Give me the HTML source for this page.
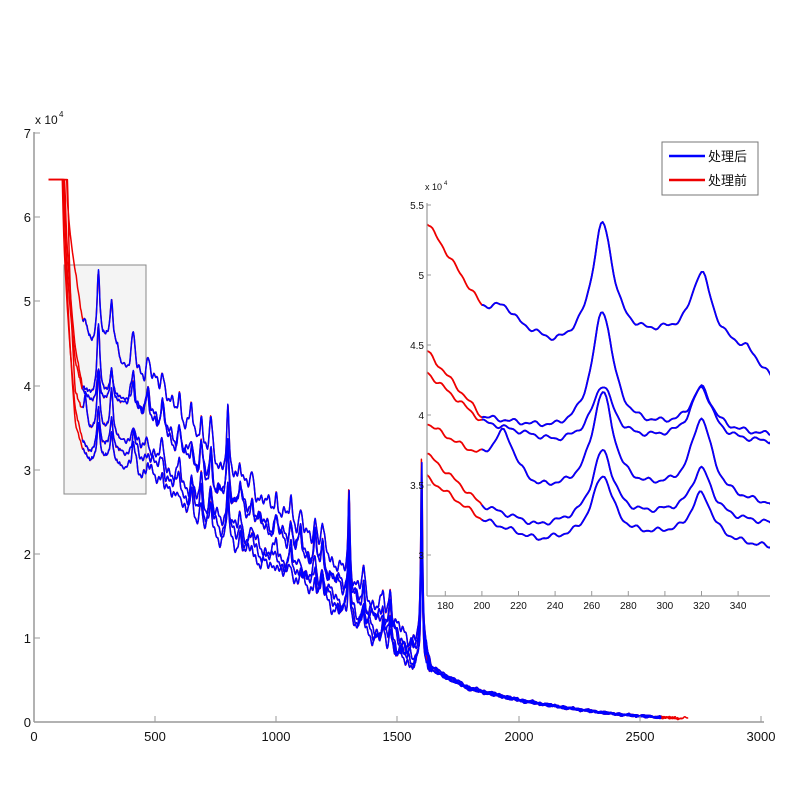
<!DOCTYPE html>
<html><head><meta charset="utf-8"><style>
html,body{margin:0;padding:0;background:#fff;}
svg{display:block;font-family:"Liberation Sans",Arial,sans-serif;}
</style></head><body>
<svg id="s" width="799" height="799" viewBox="0 0 799 799" xmlns="http://www.w3.org/2000/svg">
<rect width="799" height="799" fill="#fff"/>
<rect x="64" y="265" width="82" height="229" fill="#f4f4f4" stroke="#888" stroke-width="1"/>
<g id="main"></g>
<g stroke="#999" stroke-width="1.5" fill="none">
<line x1="34" y1="132" x2="34" y2="722"/>
<line x1="34" y1="722" x2="764" y2="722"/>
</g>
<g stroke="#999" stroke-width="1">
<line x1="34" y1="133" x2="40" y2="133"/><line x1="34" y1="217" x2="40" y2="217"/>
<line x1="34" y1="301" x2="40" y2="301"/><line x1="34" y1="386" x2="40" y2="386"/>
<line x1="34" y1="470" x2="40" y2="470"/><line x1="34" y1="554" x2="40" y2="554"/>
<line x1="34" y1="638" x2="40" y2="638"/>
<line x1="155" y1="722" x2="155" y2="716"/><line x1="276" y1="722" x2="276" y2="716"/>
<line x1="397" y1="722" x2="397" y2="716"/><line x1="519" y1="722" x2="519" y2="716"/>
<line x1="640" y1="722" x2="640" y2="716"/><line x1="761" y1="722" x2="761" y2="716"/>
</g>
<g font-size="13" fill="#111" text-anchor="end">
<text x="31" y="138">7</text><text x="31" y="222">6</text><text x="31" y="306">5</text>
<text x="31" y="391">4</text><text x="31" y="475">3</text><text x="31" y="559">2</text>
<text x="31" y="643">1</text><text x="31" y="727">0</text>
</g>
<g font-size="13" fill="#111" text-anchor="middle">
<text x="34" y="741">0</text><text x="155" y="741">500</text><text x="276" y="741">1000</text>
<text x="397" y="741">1500</text><text x="519" y="741">2000</text><text x="640" y="741">2500</text><text x="761" y="741">3000</text>
</g>
<text x="35" y="124" font-size="12" fill="#111">x 10</text><text x="59" y="117" font-size="8" fill="#111">4</text>
<rect x="427" y="190" width="345" height="406" fill="#fff"/>
<clipPath id="ic"><rect x="427" y="190" width="343" height="406"/></clipPath>
<g id="ins" clip-path="url(#ic)"></g>
<g stroke="#999" stroke-width="1.2" fill="none">
<line x1="427" y1="203" x2="427" y2="596"/>
<line x1="427" y1="596" x2="770" y2="596"/>
</g>
<g stroke="#999" stroke-width="1">
<line x1="427" y1="205" x2="431" y2="205"/><line x1="427" y1="275" x2="431" y2="275"/>
<line x1="427" y1="345" x2="431" y2="345"/><line x1="427" y1="415" x2="431" y2="415"/>
<line x1="427" y1="485" x2="431" y2="485"/><line x1="427" y1="555" x2="431" y2="555"/>
</g>
<g id="xt" stroke="#999" stroke-width="1"></g>
<g font-size="10" fill="#111" text-anchor="end">
<text x="424" y="209">5.5</text><text x="424" y="279">5</text><text x="424" y="349">4.5</text>
<text x="424" y="419">4</text><text x="424" y="489">3.5</text><text x="424" y="559">3</text>
</g>
<g id="xl" font-size="10" fill="#111" text-anchor="middle"></g>
<text x="425" y="190" font-size="9" fill="#111">x 10</text><text x="444" y="185" font-size="6" fill="#111">4</text>
<rect x="662" y="142" width="96" height="53" fill="#fff" stroke="#777" stroke-width="1"/>
<line x1="669" y1="156" x2="705" y2="156" stroke="#00f" stroke-width="2.5"/>
<line x1="669" y1="180" x2="705" y2="180" stroke="#e00" stroke-width="2.5"/>
<text x="708" y="161" font-size="13" fill="#111" font-family="'Liberation Sans','Noto Sans CJK SC',sans-serif">处理后</text>
<text x="708" y="185" font-size="13" fill="#111" font-family="'Liberation Sans','Noto Sans CJK SC',sans-serif">处理前</text>
</svg>
<script>
(function(){
var NS="http://www.w3.org/2000/svg";
function lin(k,x){if(x<=k[0][0])return k[0][1];for(var i=1;i<k.length;i++){if(x<=k[i][0]){var a=k[i-1],b=k[i];return a[1]+(b[1]-a[1])*(x-a[0])/(b[0]-a[0]);}}return k[k.length-1][1];}
function lor(x,c,w){var d=(x-c)/w;return 1/(1+d*d);}
var C=[
{k:[[170,5.37],[200,4.75],[240,4.48],[300,4.55],[345,4.45],[357,4.27]],p:[[212,0.1],[266,0.85],[320,0.5]],t:135},
{k:[[170,4.45],[200,3.98],[240,3.88],[300,3.9],[357,3.85]],p:[[266,0.85],[320,0.3]],t:128},
{k:[[170,4.3],[200,3.95],[240,3.8],[300,3.82],[357,3.8]],p:[[266,0.4],[320,0.38]],t:122},
{k:[[170,3.93],[200,3.65],[230,3.45],[300,3.45],[357,3.35]],p:[[212,0.3],[266,0.7],[320,0.55]],t:140},
{k:[[170,3.72],[200,3.35],[230,3.2],[300,3.28],[357,3.22]],p:[[266,0.5],[320,0.35]],t:118},
{k:[[170,3.55],[200,3.25],[230,3.1],[300,3.13],[357,3.05]],p:[[266,0.45],[320,0.33]],t:125}];
var G=[[357,3.5],[500,3.3],[700,2.6],[1000,2.05],[1200,1.65],[1400,1.15],[1550,0.8],[1620,0.75],[1640,0.6],[1800,0.38],[2000,0.25],[2200,0.16],[2400,0.09],[2600,0.05],[2700,0.04]];
var P=[[410,0.35,8],[470,0.2,8],[530,0.25,8],[600,0.25,8],[650,0.3,7],[690,0.4,7],[730,0.4,7],[800,0.6,6],[850,0.25,7],[900,0.18,7],[1000,0.18,7],[1060,0.25,7],[1100,0.2,7],[1160,0.3,6],[1190,0.25,6],[1300,0.95,4],[1360,0.25,5],[1440,0.2,6],[1470,0.35,6],[1600,1.9,4]];
function noise(x,c){
 if(x<=357) return 0.012*Math.sin(x*0.55+c*1.7)+0.008*Math.sin(x*1.1+c*0.5);
 return 0.05*Math.sin(x*0.08+c*1.3)+0.04*Math.sin(x*0.19+c*0.7)+0.03*Math.sin(x*0.41+c*2.1);}
function val(c,x){var cc=C[c];
 if(x<cc.t)return 6.45;
 if(x<170){var v170=val(c,170);var f=(x-cc.t)/(170-cc.t);return 6.45+(v170-6.45)*Math.pow(f,0.6);}
 var v;
 if(x<=357){v=lin(cc.k,x);for(var i=0;i<cc.p.length;i++)v+=cc.p[i][1]*lor(x,cc.p[i][0],7);}
 else{var e=cc.k[cc.k.length-1][1];var r=e/3.65;var g=lin(G,x)/3.5;
  var rr=x<1620?r:1+(r-1)*0.25;
  v=3.65*g*rr;
  for(var j=0;j<P.length;j++)v+=P[j][1]*rr*lor(x,P[j][0],P[j][2]);}
 var n=noise(x,c);
 if(x>1640)n*=0.15;
 else if(x>357)n*=Math.min(1,(x-357)/40);
 return v+n;}
function path(c,x0,x1,step,X,Y){var d="";for(var x=x0;x<=x1;x+=step){var v=val(c,x);d+=(d?"L":"M")+X(x).toFixed(1)+","+Y(v).toFixed(1);}return d;}
function add(g,d,col,w){var p=document.createElementNS(NS,"path");p.setAttribute("d",d);p.setAttribute("fill","none");p.setAttribute("stroke",col);p.setAttribute("stroke-width",w);p.setAttribute("stroke-linejoin","round");g.appendChild(p);}
var gm=document.getElementById("main");
var MX=function(x){return 34+x*0.2423;},MY=function(v){return 722-v*84.1;};
var ends=[2700,2620,2650,2600,2680,2640];
for(var c=0;c<6;c++)add(gm,path(c,60,ends[c],3,MX,MY),"#e00",1.5);
for(var c=0;c<6;c++)add(gm,path(c,200,2590,3,MX,MY),"#00f",1.5);
var gi=document.getElementById("ins");
var IX=function(x){return 427+(x-170)*1.83;},IY=function(v){return 555-(v-3)*140;};
for(var c=0;c<6;c++)add(gi,path(c,170,360,1,IX,IY),"#e00",1.8);
for(var c=0;c<6;c++)add(gi,path(c,200,360,1,IX,IY),"#00f",1.8);
var xt=document.getElementById("xt"),xl=document.getElementById("xl");
for(var t=180;t<=340;t+=20){var x=IX(t);var l=document.createElementNS(NS,"line");l.setAttribute("x1",x);l.setAttribute("x2",x);l.setAttribute("y1",596);l.setAttribute("y2",591);xt.appendChild(l);
var tx=document.createElementNS(NS,"text");tx.setAttribute("x",x);tx.setAttribute("y",609);tx.textContent=t;xl.appendChild(tx);}
})();
</script>
</body></html>
